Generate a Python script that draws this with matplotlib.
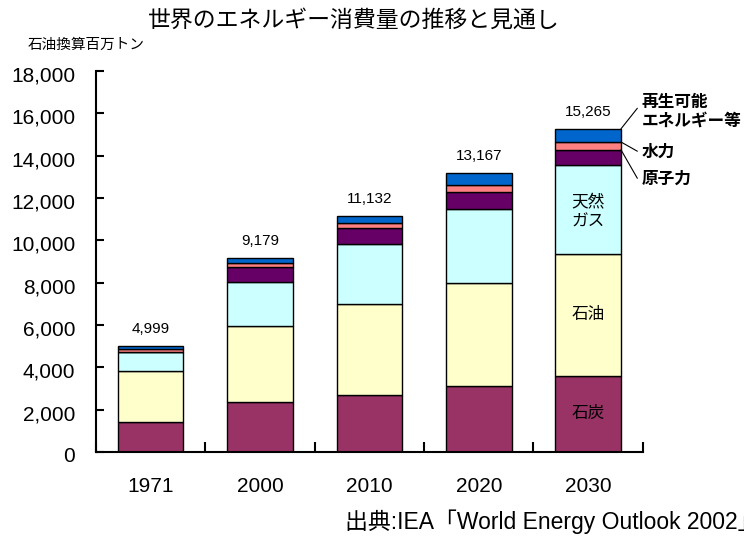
import matplotlib
matplotlib.use("Agg")
import matplotlib.pyplot as plt
import matplotlib.transforms as mtransforms
import numpy as np

plt.rcParams['font.family'] = ['Liberation Sans', 'Noto Sans CJK JP', 'DejaVu Sans']

# 石油換算百万トン
years = ['1971', '2000', '2010', '2020', '2030']
coal = [1407, 2355, 2702, 3100, 3606]
oil = [2413, 3604, 4309, 4900, 5769]
gas = [892, 2085, 2794, 3500, 4203]
nuclear = [29, 674, 753, 790, 703]
hydro = [104, 228, 274, 330, 366]
renew = [154, 233, 300, 547, 618]
totals = [4999, 9179, 11132, 13167, 15265]

series = [coal, oil, gas, nuclear, hydro, renew]
colors = ['#993366', '#FFFFCC', '#CCFFFF', '#660066', '#FF8080', '#0066CC']

fig = plt.figure(figsize=(7.44, 5.38), dpi=100)
ax = fig.add_axes([0.129, 0.16, 0.735, 0.708])

x = np.arange(len(years))
bottom = np.zeros(len(years))
for vals, c in zip(series, colors):
    ax.bar(x, vals, 0.6, bottom=bottom, color=c, edgecolor='black', linewidth=1.0, zorder=2)
    bottom += np.array(vals)

for i, t in enumerate(totals):
    ax.text(x[i], bottom[i] + 480, f'{t:,}', ha='center', va='bottom', fontsize=11)

# labels inside the 2030 bar
last = len(years) - 1
ax.text(x[last], coal[last] / 2, '石炭', ha='center', va='center', fontsize=12)
ax.text(x[last], coal[last] + oil[last] / 2, '石油', ha='center', va='center', fontsize=12)
ax.text(x[last], coal[last] + oil[last] + gas[last] / 2 - 100, '天然\nガス', ha='center', va='center',
        fontsize=12, linespacing=1.45)

# leader lines to the right-side labels
nuc_top = coal[last] + oil[last] + gas[last] + nuclear[last]
hyd_top = nuc_top + hydro[last]
lk = dict(arrowstyle='-', lw=0.8, color='black', shrinkA=0, shrinkB=0)
ax.annotate('', xy=(4.3, totals[last]), xytext=(4.45, 16240), arrowprops=lk, annotation_clip=False)
ax.annotate('', xy=(4.3, hyd_top), xytext=(4.45, 14210), arrowprops=lk, annotation_clip=False)
ax.annotate('', xy=(4.3, nuc_top), xytext=(4.45, 12930), arrowprops=lk, annotation_clip=False)
ax.text(4.49, 16060, '再生可能\nエネルギー等', ha='left', va='center', fontsize=12,
        fontweight='bold', linespacing=1.2)
ax.text(4.49, 14160, '水力', ha='left', va='center', fontsize=12, fontweight='bold')
ax.text(4.49, 12890, '原子力', ha='left', va='center', fontsize=12, fontweight='bold')

ax.set_xlim(-0.5, len(years) - 0.5)
ax.set_ylim(0, 18000)
ax.set_yticks(np.arange(0, 18001, 2000))
ax.set_yticklabels([f'{v:,}' for v in range(0, 18001, 2000)], fontsize=15)
ax.tick_params(axis='y', direction='in', length=6, width=1.5, pad=15)
ax.set_xticks(x)
ax.set_xticklabels(years, fontsize=15)
ax.tick_params(axis='x', length=0, pad=18)
ax.set_xticks(np.arange(-0.5, len(years)), minor=True)
ax.tick_params(axis='x', which='minor', direction='in', length=7, width=1.5)

shift = mtransforms.ScaledTranslation(0, -3 / 100, fig.dpi_scale_trans)
for lab in ax.get_yticklabels():
    lab.set_transform(lab.get_transform() + shift)

for s in ['top', 'right']:
    ax.spines[s].set_visible(False)
for s in ['left', 'bottom']:
    ax.spines[s].set_linewidth(1.5)

fig.text(0.475, 0.962, '世界のエネルギー消費量の推移と見通し', ha='center', va='center', fontsize=16.5)
fig.text(0.037, 0.916, '石油換算百万トン', ha='left', va='center', fontsize=10.5)
fig.text(0.464, 0.030, '出典:IEA「World Energy Outlook 2002」', ha='left', va='center', fontsize=16.5)

fig.savefig('out.png', dpi=100)
